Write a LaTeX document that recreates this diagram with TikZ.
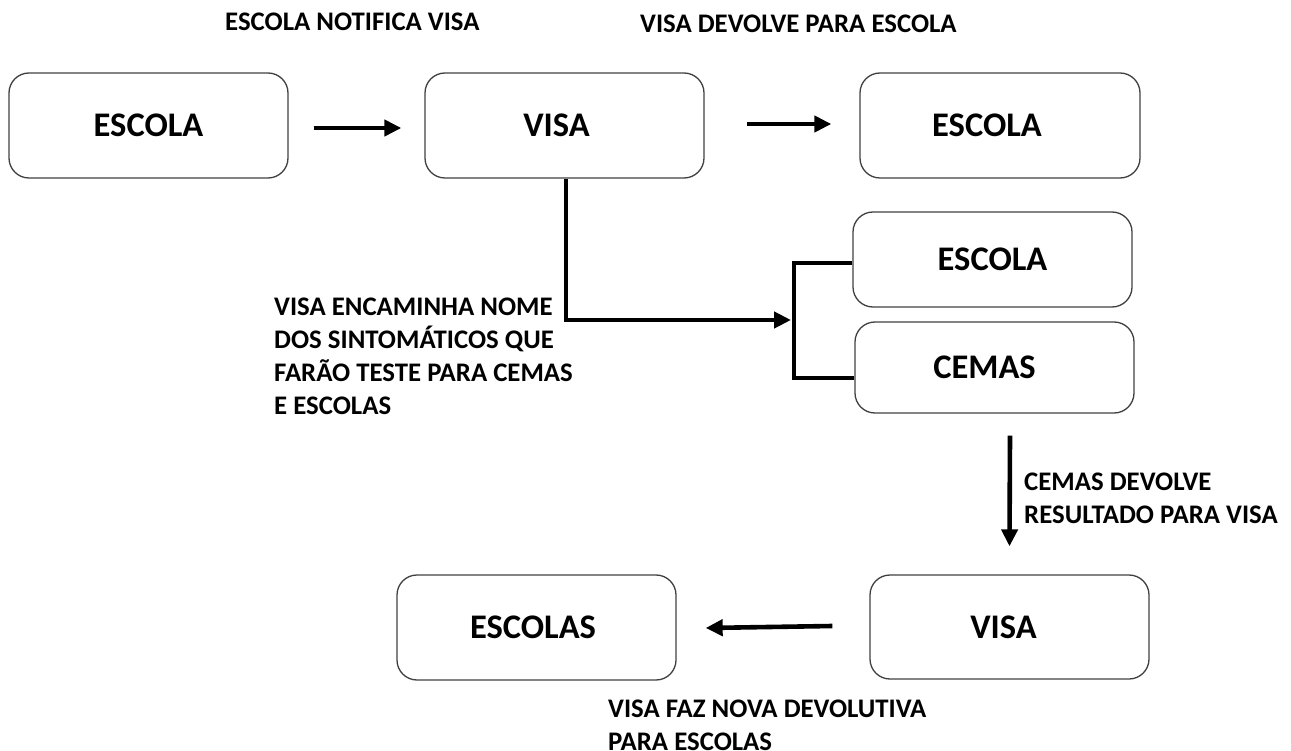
\documentclass[tikz,border=0pt]{standalone}
\usepackage{fontspec}
\setmainfont{Carlito}
\usetikzlibrary{arrows.meta}
\begin{document}
\begin{tikzpicture}[x=1pt,y=-1pt,
 box/.style={draw=black!75, line width=1.3pt, rounded corners=20pt, inner sep=0pt,
   font=\fontsize{34.5}{40}\selectfont\bfseries},
 lbl/.style={inner sep=0pt, anchor=north west, align=left,
   font=\fontsize{26.8}{33}\selectfont\bfseries},
 arr/.style={line width=4.6pt, -{Triangle[length=17pt,width=16pt]}},
 ln/.style={line width=4.6pt}]
\useasboundingbox (0,0) rectangle (1291,751);
% boxes
\node[box, minimum width=279pt, minimum height=105pt] (e1) at (148.5,125.5) {ESCOLA};
\node[box, minimum width=279pt, minimum height=105pt] (v1) at (564.5,125.5) {\hspace*{-16pt}VISA};
\node[box, minimum width=280pt, minimum height=105pt] (e2) at (1000,125.5) {\hspace*{-26pt}ESCOLA};
\node[box, minimum width=279pt, minimum height=95pt] (e3) at (992.5,259.5) {ESCOLA};
\node[box, minimum width=279pt, minimum height=91pt] (c1) at (994.5,367.5) {\hspace*{-20pt}CEMAS};
\node[box, minimum width=279pt, minimum height=105pt] (es) at (536.5,627.5) {\hspace*{-7pt}ESCOLAS};
\node[box, minimum width=279pt, minimum height=104pt] (v2) at (1009.5,627) {\hspace*{-12pt}VISA};
% labels
\node[lbl] (t1) at (225,13) {ESCOLA NOTIFICA VISA};
\node[lbl] (t2) at (640,15) {VISA DEVOLVE PARA ESCOLA};
\node[lbl] (t3) at (274,297.5) {VISA ENCAMINHA NOME\\DOS SINTOMÁTICOS QUE\\FARÃO TESTE PARA CEMAS\\E ESCOLAS};
\node[lbl] (t4) at (1024,473) {CEMAS DEVOLVE\\RESULTADO PARA VISA};
\node[lbl] (t5) at (608,699.5) {VISA FAZ NOVA DEVOLUTIVA\\PARA ESCOLAS};
% connectors
\draw[arr] ([xshift=25pt,yshift=-2.5pt]e1.east) -- ([xshift=-23pt,yshift=-2.5pt]v1.west);
\draw[arr] ([xshift=42pt,yshift=1.5pt]v1.east) -- ([xshift=-28pt,yshift=1.5pt]e2.west);
\coordinate (bm) at (791,320);
\coordinate (bt) at (794,263);
\coordinate (bb) at (794,378);
\draw[arr] ([xshift=1.5pt]v1.south) |- (bm);
\draw[ln] (e3.west |- bt) -- (bt) -- (bb) -- (c1.west |- bb);
\draw[arr] ([xshift=15.5pt,yshift=-22pt]c1.south) -- ([yshift=28pt]v2.north);
\draw[arr] ([xshift=-37pt,yshift=1pt]v2.west) -- ([xshift=29pt,yshift=-0.5pt]es.east);
\end{tikzpicture}
\end{document}
